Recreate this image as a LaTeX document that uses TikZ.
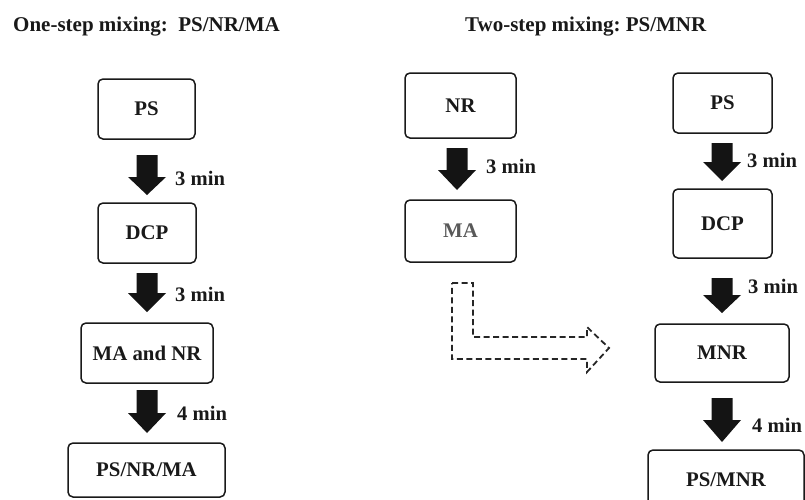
\documentclass[tikz,border=0pt]{standalone}
\usepackage{fontspec}
\setmainfont{Liberation Serif}
\newcommand\blockarr[4]{%
  \fill[arrowfill] ({#1-10.5},#2) -- ({#1+10.5},#2) -- ({#1+10.5},#3) -- ({#1+19},#3)
    -- (#1,#4) -- ({#1-19},#3) -- ({#1-10.5},#3) -- cycle;}
\begin{document}
\begin{tikzpicture}[x=1pt,y=-1pt,
  box/.style={draw=black!90,line width=1.5pt,rounded corners=5pt,inner sep=0pt,
    text=black!90,font=\bfseries\fontsize{20.8}{24}\selectfont},
  lbl/.style={anchor=base west,inner sep=0pt,text=black!90,font=\bfseries\fontsize{20.6}{24}\selectfont},
  ttl/.style={anchor=base west,inner sep=0pt,text=black!90,font=\bfseries\fontsize{21}{24}\selectfont},
  arrowfill/.style={fill=black!92},
  dasharrow/.style={draw=black!85,line width=1.8pt,dash pattern=on 6pt off 3.5pt,line join=miter}]
\useasboundingbox (0,0) rectangle (805,499);

% titles
\node[ttl] (t1) at (13,31) {One-step mixing:\ \ PS/NR/MA};
\node[ttl] (t2) at (465,31) {Two-step mixing:\ PS/MNR};

% left column
\node[box,minimum width=97pt,minimum height=60pt] (ps1) at (146.5,109) {PS};
\node[box,minimum width=98pt,minimum height=60pt] (dcp1) at (147,233) {DCP};
\node[box,minimum width=132pt,minimum height=60pt] (mann) at (147,353) {MA and NR};
\node[box,minimum width=157pt,minimum height=54pt] (psnrma) at (146.5,470) {PS/NR/MA};

\blockarr{147}{155}{177}{195}
\blockarr{147}{273}{293}{312}
\blockarr{147}{390}{413}{433}
\node[lbl] (l1) at (175,185) {3 min};
\node[lbl] (l2) at (175,301) {3 min};
\node[lbl] (l3) at (177,420) {4 min};

% middle column
\node[box,minimum width=111pt,minimum height=65pt] (nr) at (460.5,105.5) {NR};
\node[box,minimum width=111pt,minimum height=62pt,text=black!65] (ma) at (460.5,231) {MA};
\blockarr{457}{148}{170}{190}
\node[lbl] (m1) at (486,173) {3 min};

% dashed L-shaped arrow
\draw[dasharrow] (452,283) -- (473,283) -- (473,337) -- (587,337) -- (587,327)
  -- (609,348) -- (587,372) -- (587,359) -- (452,359) -- cycle;

% right column
\node[box,minimum width=99pt,minimum height=60pt] (ps2) at (722.5,103) {PS};
\node[box,minimum width=99pt,minimum height=69pt] (dcp2) at (722.5,223.5) {DCP};
\node[box,minimum width=134pt,minimum height=58pt] (mnr) at (722,353) {MNR};
\begin{scope}
  \clip (0,0) rectangle (805,499);
  \node[box,minimum width=156pt,minimum height=60pt] (psmnr) at (726,480) {PS/MNR};
\end{scope}
\blockarr{722}{143}{162}{181}
\blockarr{722}{278}{295}{313}
\blockarr{722}{398}{420}{442}
\node[lbl] (r1) at (747,167) {3 min};
\node[lbl] (r2) at (748,293) {3 min};
\node[lbl] (r3) at (752,432) {4 min};
\end{tikzpicture}
\end{document}
